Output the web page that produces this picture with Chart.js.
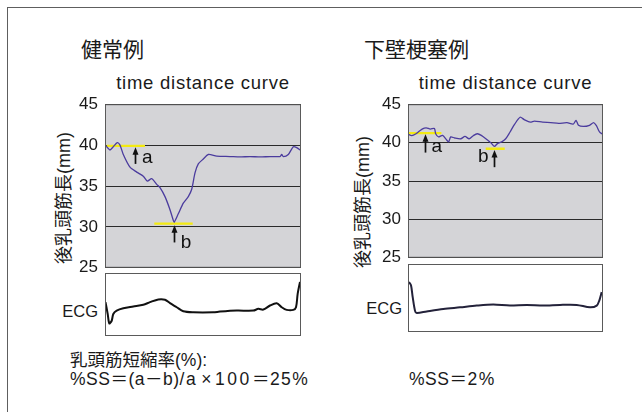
<!DOCTYPE html>
<html><head><meta charset="utf-8">
<script src="https://cdn.jsdelivr.net/npm/chart.js@4/dist/chart.umd.min.js"></script>
<style>
html,body{margin:0;padding:0;background:#fff;overflow:hidden;}
body{width:642px;height:412px;position:relative;font-family:"Liberation Sans","Noto Sans CJK JP",sans-serif;color:#1a1a1a;}
.frame{position:absolute;left:7px;top:7px;width:634px;height:404px;border-top:1px solid #5e5e5e;border-left:1px solid #5e5e5e;}
canvas{position:absolute;}
.t{position:absolute;white-space:nowrap;}
.jp{font-family:"Noto Sans CJK JP",sans-serif;}
.head{font-size:21px;line-height:20px;height:20px;}
.sub{font-size:18.5px;line-height:20px;height:20px;letter-spacing:0.75px;text-align:center;}
.ylab{font-size:18px;line-height:20px;height:20px;width:200px;text-align:center;transform:rotate(-90deg);}
.ecg{font-size:16.5px;line-height:20px;height:20px;width:60px;text-align:right;}
.foot{font-size:17.5px;line-height:20px;height:20px;}
.ls1{letter-spacing:1.5px;}
.ls25{letter-spacing:1.5px;}
.ls4{letter-spacing:2.6px;}
.mul{padding:0 3px 0 4px;}
</style></head>
<body>
<div class="frame"></div>

<div class="t jp head" style="left:81px;top:38px;">健常例</div>
<div class="t jp head" style="left:364px;top:38px;">下壁梗塞例</div>
<div class="t sub" style="left:105px;width:196px;top:72.6px;">time distance curve</div>
<div class="t sub" style="left:408px;width:195px;top:72.6px;">time distance curve</div>
<div class="t ylab" style="left:-36px;top:188px;">後乳頭筋長(mm)</div>
<div class="t ylab" style="left:263px;top:192px;">後乳頭筋長(mm)</div>
<div class="t ecg" style="left:38px;top:301px;">ECG</div>
<div class="t ecg" style="left:342px;top:297.5px;">ECG</div>
<div class="t foot" style="left:70px;top:350px;">乳頭筋短縮率(%):</div>
<div class="t foot" style="left:70px;top:368.5px;letter-spacing:0.5px;">%SS＝(a－b)<span class="ls25">/a</span><span class="mul">×</span><span class="ls4">100</span>＝<span class="ls1">25%</span></div>
<div class="t foot" style="left:409px;top:368.5px;letter-spacing:0.5px;">%SS＝<span class="ls1">2%</span></div>

<canvas id="cL" width="262" height="198" style="left:40px;top:87px;"></canvas>
<canvas id="cR" width="261" height="188" style="left:343px;top:87px;"></canvas>
<canvas id="eL" width="198" height="64" style="left:104px;top:272px;"></canvas>
<canvas id="eR" width="197" height="69" style="left:407px;top:263px;"></canvas>

<script>
// ---- data ----
const yTicks = [25, 30, 35, 40, 45];

// 健常例 : time (samples) / papillary muscle length (mm)
const normalTime   = [0,1.7,5,8.3,12.3,15,18.3,25,31.7,38.3,42.3,46.7,51.7,55,60,65,68.3,69.3,73.3,78.3,83.3,86.7,90,93.3,98.3,103.3,111.7,125,135,145,155,165,175,176.7,178.3,183.3,188.3,191.7,196];
const normalLength = [39.9,39.8,39.4,39.8,40.3,40.0,38.85,37.3,36.7,36.2,35.6,35.9,35.2,34.8,33.7,32.1,30.8,30.6,31.6,32.9,33.7,34.6,36.6,37.7,38.3,38.85,38.65,38.6,38.55,38.6,38.55,38.6,38.6,38.85,38.6,38.85,39.8,39.7,39.3];

// 下壁梗塞例
const infarctTime   = [0,3.7,8,14.1,18.2,22.3,26.4,27.7,30.5,34.6,38.7,40.7,42.7,46.7,52.7,57,61.1,65.2,69.3,73.3,79.5,83.5,86.4,89.7,93.7,97.7,101.9,106.7,112.1,116.2,122.3,126.4,134.6,142.7,150.7,159,165.2,168,170.5,175.4,181.5,185.6,188.4,191.7,194.6];
const infarctLength = [41.1,40.9,41.15,41.76,41.93,41.76,41.84,41.15,40.74,40.94,40.33,40.1,40.74,40.6,40.5,40.8,40.5,40.9,41.15,40.94,40.33,39.9,39.5,39.9,40.1,40.5,41.35,42.4,43.3,43.0,42.66,42.8,42.66,42.6,42.5,42.6,42.4,42.9,42.25,42.1,42.25,42.6,42.2,41.35,41.1];

// ECG traces (arbitrary units)
const normalEcgTime  = [0.5,2.7,4.3,6.7,8.3,11.7,18.3,28.3,38.3,45,53.3,60,65,71.7,78.3,88.3,108.3,115,131.7,148.3,153.3,158.3,165,171.7,176.7,181.7,188.3,191,192.7,195];
const normalEcg      = [33.3,21.7,12.3,15,21.7,25,27.3,29,30.7,33.3,36,35.7,32.3,28.3,24.3,23.3,23.3,24,25,25,26.7,26,30,32.3,28.3,25.7,25.7,28.3,41.7,53.3];
const infarctEcgTime = [1,3,4.7,7,8.7,18.7,35.3,52,68.7,85.3,102,118.7,135.3,152,168.7,182,188.7,191.3,193.7];
const infarctEcg     = [49.3,46,34.3,21,18.7,20.3,22.7,24.3,26,27,26,26.7,26,26.7,26.7,24.3,26,31,39.3];

// a (end-diastole) and b (end-systole) levels, mm
const normalLevels  = [39.9, 30.4];
const infarctLevels = [41.23, 39.2];
// time span of each level marker [start, end]
const normalLevelSpans  = [[1.7, 40], [49.3, 87.7]];
const infarctLevelSpans = [[0, 33.4], [77.7, 96.7]];
// arrows: time, tip (mm), tail (mm)
const normalArrows  = [[30, 39.75, 37.7], [69, 30.2, 28.1]];
const infarctArrows = [[16.7, 41.1, 38.7], [86, 39.05, 36.8]];
// letter labels: text, time, baseline (mm)
const markLabels = ['a', 'b'];
const normalLabelPos  = [[37, 37.87], [75.7, 27.47]];
const infarctLabelPos = [[23.4, 38.78], [70, 37.48]];

// ---- drawing ----
const zip = (t, v) => t.map((x, i) => ({x, y: v[i]}));

const panelPlugin = {
  id: 'panel',
  beforeDraw(chart, args, opts) {
    const {ctx, chartArea: a} = chart;
    ctx.save();
    ctx.fillStyle = opts.fill || '#fff';
    ctx.fillRect(a.left, a.top, a.right - a.left, a.bottom - a.top);
    ctx.restore();
  },
  afterDatasetsDraw(chart, args, opts) {
    const {ctx, chartArea: a} = chart;
    const xs = chart.scales.x, ys = chart.scales.y;
    ctx.save();
    ctx.strokeStyle = '#5a5a5a';
    ctx.lineWidth = 1;
    ctx.strokeRect(a.left + 0.5, a.top + 0.5, a.right - a.left - 1, a.bottom - a.top - 1);
    ctx.fillStyle = '#111';
    ctx.strokeStyle = '#111';
    (opts.arrows || []).forEach(([t, tip, tail]) => {
      const x = Math.round(xs.getPixelForValue(t)) + 0.5;
      const yt = ys.getPixelForValue(tip), yb = ys.getPixelForValue(tail);
      ctx.lineWidth = 1.7;
      ctx.beginPath(); ctx.moveTo(x, yb); ctx.lineTo(x, yt + 5); ctx.stroke();
      ctx.beginPath(); ctx.moveTo(x, yt); ctx.lineTo(x - 3, yt + 7.5); ctx.lineTo(x + 3, yt + 7.5); ctx.closePath(); ctx.fill();
    });
    ctx.font = '19px "Liberation Sans", Arial, sans-serif';
    ctx.textAlign = 'left';
    ctx.textBaseline = 'alphabetic';
    (opts.labels || []).forEach(([txt, t, v]) => {
      ctx.fillText(txt, xs.getPixelForValue(t), ys.getPixelForValue(v));
    });
    ctx.restore();
  }
};

function distanceChart(id, time, len, levels, spans, arrows, labelPos, xmax) {
  const markerSets = levels.map((lv, i) => ({
    data: [{x: spans[i][0], y: lv}, {x: spans[i][1], y: lv}],
    borderColor: '#f3ea12', borderWidth: 2.3, pointRadius: 0, tension: 0
  }));
  new Chart(document.getElementById(id), {
    type: 'line',
    data: {datasets: [
      {data: zip(time, len), borderColor: '#4b3c9e', borderWidth: 1.3, pointRadius: 0, tension: 0.25},
      ...markerSets
    ]},
    options: {
      responsive: false, animation: false, events: [],
      layout: {padding: {top: 12, bottom: 12, left: 0, right: 1}},
      plugins: {
        legend: {display: false}, tooltip: {enabled: false},
        panel: {fill: '#d4d4d7', arrows,
          labels: labelPos.map((p, i) => [markLabels[i], p[0], p[1]])}
      },
      scales: {
        x: {type: 'linear', display: false, min: 0, max: xmax},
        y: {
          type: 'linear', min: yTicks[0], max: yTicks[yTicks.length - 1],
          afterFit(s) { s.width = 65; },
          afterBuildTicks(s) { s.ticks = yTicks.map(v => ({value: v})); },
          ticks: {padding: 7, color: '#1a1a1a', font: {family: '"Liberation Sans", Arial', size: 17}},
          grid: {color: '#2a2a2a', lineWidth: 1, drawTicks: false},
          border: {display: false}
        }
      }
    },
    plugins: [panelPlugin]
  });
}

function ecgChart(id, time, vals, ymax, xmax, color) {
  new Chart(document.getElementById(id), {
    type: 'line',
    data: {datasets: [{data: zip(time, vals), borderColor: color, borderWidth: 2, pointRadius: 0, tension: 0.3}]},
    options: {
      responsive: false, animation: false, events: [],
      layout: {padding: {top: 1, bottom: 0, left: 1, right: 1}},
      plugins: {legend: {display: false}, tooltip: {enabled: false}, panel: {fill: '#fff'}},
      scales: {
        x: {type: 'linear', display: false, min: 0, max: xmax},
        y: {type: 'linear', display: false, min: 0, max: ymax}
      }
    },
    plugins: [panelPlugin]
  });
}

distanceChart('cL', normalTime, normalLength, normalLevels, normalLevelSpans, normalArrows, normalLabelPos, 196);
distanceChart('cR', infarctTime, infarctLength, infarctLevels, infarctLevelSpans, infarctArrows, infarctLabelPos, 195);
ecgChart('eL', normalEcgTime, normalEcg, 62, 196, '#111');
ecgChart('eR', infarctEcgTime, infarctEcg, 67, 195, '#23223a');
</script>
</body></html>
